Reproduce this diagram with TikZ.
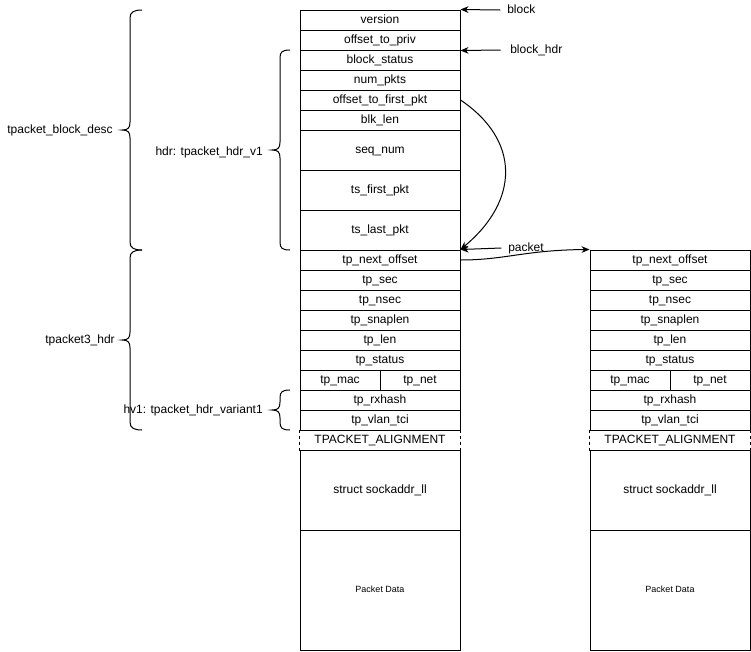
\documentclass[tikz,border=0pt]{standalone}
\usepackage{fontspec}
\setmainfont{Liberation Sans}
\usetikzlibrary{arrows.meta}
\begin{document}
\begin{tikzpicture}[x=0.75pt,y=-0.75pt,
  cell/.style={draw, line width=0.75pt, minimum width=120pt, minimum height=15pt, inner sep=0pt, text height=6.6pt, text depth=1.2pt, font=\fontsize{9}{10}\selectfont},
  half/.style={cell, minimum width=60pt},
  h2/.style={cell, minimum height=30pt},
  h4/.style={cell, minimum height=60pt},
  h6/.style={cell, minimum height=90pt, text height=5pt, text depth=0.9pt, font=\fontsize{6.75}{8}\selectfont},
  blank/.style={cell, draw=none},
  lbl/.style={inner sep=0pt, text height=6.6pt, text depth=1.2pt, font=\fontsize{9}{10}\selectfont},
  arr/.style={line width=0.75pt, -{Stealth[length=6pt,width=5pt]}},
  brc/.style={line width=0.75pt},
  dsh/.style={line width=0.75pt, dash pattern=on 2.25pt off 2.25pt}
]
\useasboundingbox (0,0) rectangle (751,651);
% left column
\node[cell] (version) at (380,20) {version};
\node[cell] (otp) at (380,40) {offset\_to\_priv};
\node[cell] (bstat) at (380,60) {block\_status};
\node[cell] (npk) at (380,80) {num\_pkts};
\node[cell] (otfp) at (380,100) {offset\_to\_first\_pkt};
\node[cell] (blk) at (380,120) {blk\_len};
\node[h2] (seq) at (380,150) {seq\_num};
\node[h2] (tsf) at (380,190) {ts\_first\_pkt};
\node[h2] (tsl) at (380,230) {ts\_last\_pkt};
\node[cell] (nxA) at (380,260) {tp\_next\_offset};
\node[cell] (secA) at (380,280) {tp\_sec};
\node[cell] (nsecA) at (380,300) {tp\_nsec};
\node[cell] (snapA) at (380,320) {tp\_snaplen};
\node[cell] (lenA) at (380,340) {tp\_len};
\node[cell] (statA) at (380,360) {tp\_status};
\node[half] (macA) at (340,380) {tp\_mac};
\node[half] (netA) at (420,380) {tp\_net};
\node[cell] (rxA) at (380,400) {tp\_rxhash};
\node[cell] (vlA) at (380,420) {tp\_vlan\_tci};
\node[blank] (alA) at (380,440) {TPACKET\_ALIGNMENT};
\draw[dsh] (alA.north west) -- (alA.south west);
\draw[dsh] (alA.north east) -- (alA.south east);
\node[h4] (saA) at (380,490) {struct sockaddr\_ll};
\node[h6] (pdA) at (380,590) {Packet Data};
% right column
\node[cell] (nxB) at (670,260) {tp\_next\_offset};
\node[cell] (secB) at (670,280) {tp\_sec};
\node[cell] (nsecB) at (670,300) {tp\_nsec};
\node[cell] (snapB) at (670,320) {tp\_snaplen};
\node[cell] (lenB) at (670,340) {tp\_len};
\node[cell] (statB) at (670,360) {tp\_status};
\node[half] (macB) at (630,380) {tp\_mac};
\node[half] (netB) at (710,380) {tp\_net};
\node[cell] (rxB) at (670,400) {tp\_rxhash};
\node[cell] (vlB) at (670,420) {tp\_vlan\_tci};
\node[blank] (alB) at (670,440) {TPACKET\_ALIGNMENT};
\draw[dsh] (alB.north west) -- (alB.south west);
\draw[dsh] (alB.north east) -- (alB.south east);
\node[h4] (saB) at (670,490) {struct sockaddr\_ll};
\node[h6] (pdB) at (670,590) {Packet Data};
% pointer labels
\node[lbl, anchor=west] (lblock) at (507,10) {block};
\node[lbl, anchor=west] (lbhdr) at (510,50) {block\_hdr};
\node[lbl, anchor=west] (lpkt) at (508,248) {packet};
\draw[arr] ([xshift=-5pt]lblock.west) -- (version.north east);
\draw[arr] ([xshift=-7pt]lbhdr.west) -- (otp.south east);
\draw[arr] ([xshift=-5pt]lpkt.west) -- (nxA.north east);
\draw[arr] (otfp.east) .. controls (520,140) and (520,200) .. (nxA.north east);
\draw[arr] (nxA.east) .. controls (505,260) and (525,250) .. (nxB.north west);
% braces
\draw[brc] (142,10) .. controls (134,10) and (130,12) .. (130,18) -- (130,122)
  .. controls (130,128) and (128,130) .. (122,130)
  .. controls (128,130) and (130,132) .. (130,138) -- (130,242)
  .. controls (130,248) and (134,250) .. (142,250);
\draw[brc] (142,250) .. controls (134,250) and (130,252) .. (130,258) -- (130,332)
  .. controls (130,338) and (128,340) .. (122,340)
  .. controls (128,340) and (130,342) .. (130,348) -- (130,422)
  .. controls (130,428) and (134,430) .. (142,430);
\draw[brc] (290,50) .. controls (282,50) and (280,52) .. (280,58) -- (280,142)
  .. controls (280,148) and (278,150) .. (272,150)
  .. controls (278,150) and (280,152) .. (280,158) -- (280,242)
  .. controls (280,248) and (282,250) .. (290,250);
\draw[brc] (290,390) .. controls (282,390) and (280,392) .. (280,398) -- (280,402)
  .. controls (280,408) and (278,410) .. (272,410)
  .. controls (278,410) and (280,412) .. (280,418) -- (280,422)
  .. controls (280,428) and (282,430) .. (290,430);
\node[lbl, anchor=east] (lbd) at (113,130) {tpacket\_block\_desc};
\node[lbl, anchor=east] (lhv) at (263,152) {hdr: tpacket\_hdr\_v1};
\node[lbl, anchor=east] (l3h) at (115,340) {tpacket3\_hdr};
\node[lbl, anchor=east] (lv1) at (263,410) {hv1: tpacket\_hdr\_variant1};
\end{tikzpicture}
\end{document}
